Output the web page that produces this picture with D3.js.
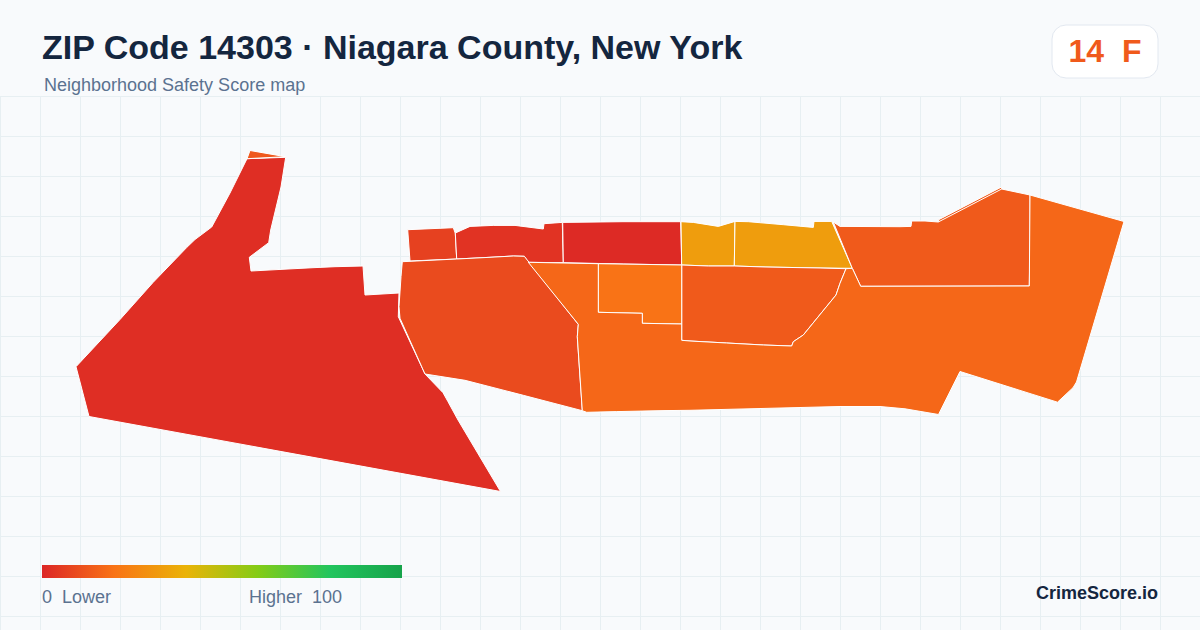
<!DOCTYPE html>
<html>
<head>
<meta charset="utf-8">
<script src="https://cdn.jsdelivr.net/npm/d3@7"></script>
<style>
  html, body { margin: 0; padding: 0; background: #f8fafc; }
  svg { display: block; }
  text { font-family: "Liberation Sans", Arial, sans-serif; white-space: pre; }
</style>
</head>
<body>
<svg id="map" width="1200" height="630"></svg>
<script>
const zoneScores = [2, 13, 7, 3.4, 1, 9.5, 33, 33, 13.5, 13.5, 13.5, 20, 17]
const zoneRings = [
  [[247,158.7],[285.7,157.3],[281,187],[275,212],[270.7,230],[268.7,242.7],[249.3,257.3],[251,271],[288,269],[313,267.7],[335,266.7],[363,266],[365,295],[399,293],[398.3,316.7],[425,374],[443,392.7],[448,401.7],[458,420],[500.5,491.5],[89,416.5],[76,366.7],[120,319.5],[153,282.5],[186.7,247.5],[195,239.5],[211.7,227],[230,193]],
  [[250,150.5],[285.5,156.7],[247,158.7]],
  [[407.7,229.7],[453.3,227.7],[455.3,233.3],[456.7,259],[410,261]],
  [[455.3,233],[470,226.4],[493.3,225.4],[515,225.4],[543.3,229],[544,223.7],[562.3,222.4],[563.3,262.7],[528.3,262.3],[524.3,256.3],[513.3,256],[490,257.3],[456.7,259]],
  [[562.7,222.4],[623,221.7],[680.7,221.7],[681.7,265],[623.3,264],[563.3,262.7]],
  [[402.3,261.7],[456.7,259],[490,257.3],[513.3,256],[524.3,256.3],[578.3,324.3],[577.3,336.7],[582.3,410.7],[523.3,395.3],[465,380.3],[425,374],[400,318.3],[399,306.7],[401,276.7]],
  [[681,221.7],[693.3,222.4],[718.3,226.4],[735,221.4],[734.3,266],[708.3,266],[681.7,265]],
  [[735,221.4],[748.3,221.7],[783.3,224.7],[813.3,227.4],[814,221.4],[831.7,221.4],[852.3,268.3],[820,268],[765,267],[734.3,266]],
  [[938.3,219.9],[1001.7,186.9],[1001.7,190.5],[940,223]],
  [[681.7,265],[708.3,266],[734.3,266],[765,267],[820,268],[846,268.7],[840,283.3],[836,295],[803.3,335],[793.3,341.7],[791.7,346],[763.3,345],[726.7,343],[690,341],[681.7,340.3]],
  [[833.3,222],[840,226.4],[900,226.7],[911,226.4],[911.7,221],[925,221],[938.3,222],[1001.7,189],[1030,195],[1030,240],[1029.3,286],[860.7,286.3],[852.3,268.3]],
  [[598.3,263.7],[681.7,265],[681.7,324],[642.3,323.3],[642.3,313.3],[598.3,312.3]],
  [[528.3,262.3],[598.3,263.7],[598.3,312.3],[642.3,313.3],[642.3,323.3],[681.7,324],[681.7,340.3],[690,341],[726.7,343],[763.3,345],[791.7,346],[793.3,341.7],[803.3,335],[836,295],[840,283.3],[846,268.7],[852.3,268.3],[860.7,286.3],[1029.3,286],[1030,195],[1124,221.5],[1076.5,382],[1073,387.7],[1057.5,402.2],[960,371.5],[938.5,414.5],[905,408.8],[880,406.5],[840,406.5],[690,410.3],[665,410.6],[616.7,411.6],[586.7,412.3],[582.3,410.7],[577.3,336.7],[578.3,324.3]]
]
const colorStops = [0, 20, 40, 60, 80, 100]
const colorValues = ["#dc2626", "#f97316", "#eab308", "#84cc16", "#22c55e", "#16a34a"]

const titleText = "ZIP Code 14303 · Niagara County, New York"
const subtitleText = "Neighborhood Safety Score map"
const overallScore = 14
const overallGrade = "F"
const legendLow = "0  Lower"
const legendHigh = "Higher  100"
const brandText = "CrimeScore.io"

const width = 1200
const height = 630
const svg = d3.select("#map")

const color = d3.scaleLinear().domain(colorStops).range(colorValues)

// page background and grid
svg.append("rect").attr("width", width).attr("height", height).attr("fill", "#f8fafc")

const grid = svg.append("g").attr("stroke", "#e7eff2").attr("stroke-width", 1)
d3.range(0.5, width, 40).forEach(x => {
  grid.append("line").attr("x1", x).attr("x2", x).attr("y1", 96).attr("y2", height)
})
d3.range(96.5, height, 40).forEach(y => {
  grid.append("line").attr("x1", 0).attr("x2", width).attr("y1", y).attr("y2", y)
})

// zones, geojson rings have to repeat their first point
const features = zoneRings.map((ring, i) => ({
  type: "Feature",
  properties: { score: zoneScores[i] },
  geometry: { type: "Polygon", coordinates: [ring.concat([ring[0]])] }
}))
const projection = d3.geoIdentity().fitExtent(
  [[76, 150.5], [1124, 491.5]],
  { type: "FeatureCollection", features }
)
const path = d3.geoPath().projection(projection)

svg.append("g").selectAll("path")
  .data(features)
  .enter()
  .append("path")
  .attr("d", path)
  .attr("fill", d => color(d.properties.score))
  .attr("stroke", "#ffffff")
  .attr("stroke-width", 1)
  .attr("stroke-linejoin", "round")

// header
svg.append("text")
  .text(titleText)
  .attr("x", 42).attr("y", 59)
  .attr("font-size", 34).attr("font-weight", 700)
  .attr("fill", "#14263f")

svg.append("text")
  .text(subtitleText)
  .attr("x", 44).attr("y", 91)
  .attr("font-size", 18)
  .attr("fill", "#5b7290")

// score badge
svg.append("rect")
  .attr("x", 1052).attr("y", 25)
  .attr("width", 106).attr("height", 53)
  .attr("rx", 14)
  .attr("fill", "#ffffff")
  .attr("stroke", "#e2e8f0")

svg.append("text")
  .text(`${overallScore}  ${overallGrade}`)
  .attr("x", 1105).attr("y", 62)
  .attr("text-anchor", "middle")
  .attr("font-size", 32).attr("font-weight", 700)
  .attr("fill", color(13.5))

// legend
const legendScale = d3.scaleLinear().domain([0, 100]).range([42, 402])
const gradient = svg.append("defs").append("linearGradient").attr("id", "legend-gradient")
colorStops.forEach((s, i) => {
  gradient.append("stop").attr("offset", `${s}%`).attr("stop-color", colorValues[i])
})
svg.append("rect")
  .attr("x", legendScale(0)).attr("y", 565)
  .attr("width", legendScale(100) - legendScale(0)).attr("height", 13)
  .attr("fill", "url(#legend-gradient)")

svg.append("text")
  .text(legendLow)
  .attr("x", 42).attr("y", 603)
  .attr("font-size", 18)
  .attr("fill", "#5b7290")

svg.append("text")
  .text(legendHigh)
  .attr("x", 342).attr("y", 603)
  .attr("text-anchor", "end")
  .attr("font-size", 18)
  .attr("fill", "#5b7290")

svg.append("text")
  .text(brandText)
  .attr("x", 1158).attr("y", 599)
  .attr("text-anchor", "end")
  .attr("font-size", 18).attr("font-weight", 700)
  .attr("fill", "#14263f")
</script>
</body>
</html>
